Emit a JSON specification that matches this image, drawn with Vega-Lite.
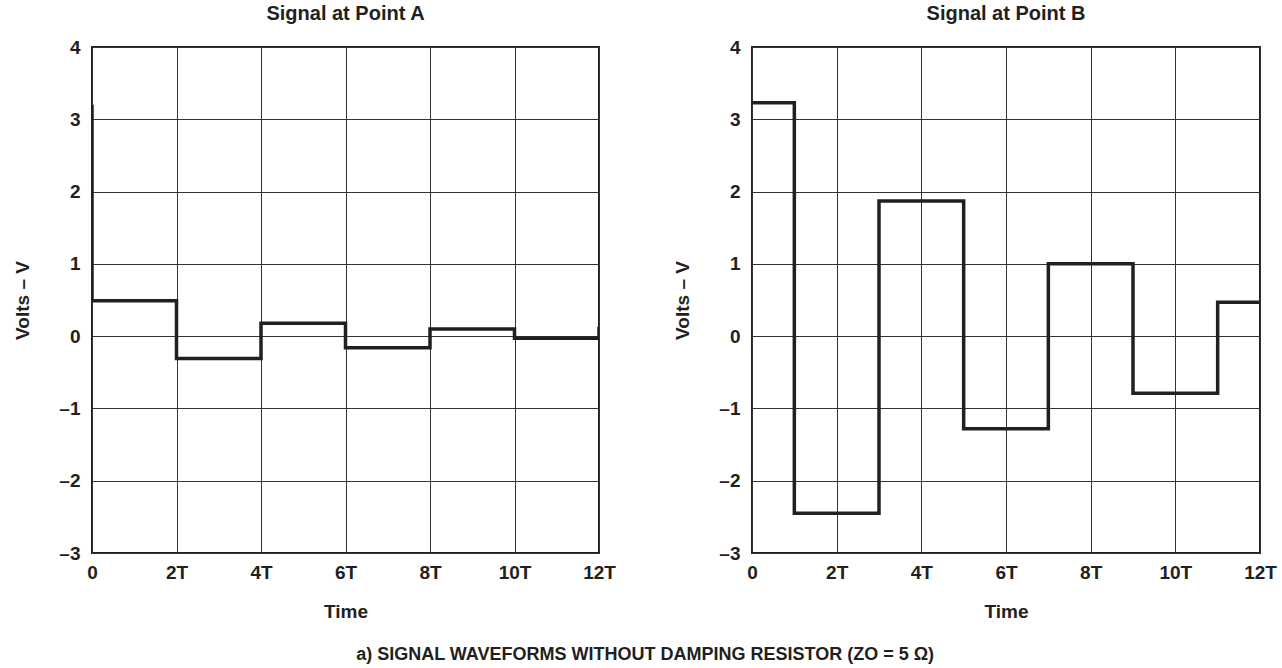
{
  "$schema": "https://vega.github.io/schema/vega-lite/v6.json",
  "padding": {"left": 12, "top": 3, "right": 0, "bottom": 3},
  "background": "white",
  "title": {
    "text": "a) SIGNAL WAVEFORMS WITHOUT DAMPING RESISTOR (ZO = 5 Ω)",
    "orient": "bottom",
    "anchor": "middle",
    "fontSize": 18,
    "fontWeight": "bold",
    "font": "Liberation Sans",
    "color": "#231f20",
    "offset": 24
  },
  "config": {
    "font": "Liberation Sans",
    "view": {"stroke": "#231f20", "strokeWidth": 2},
    "concat": {"spacing": 55},
    "title": {"fontSize": 20, "fontWeight": "bold", "color": "#231f20", "offset": 14},
    "axis": {
      "grid": true,
      "gridColor": "#333333",
      "gridWidth": 1,
      "gridOpacity": 1,
      "ticks": false,
      "domain": false,
      "labelFontSize": 19,
      "labelFontWeight": "bold",
      "labelColor": "#231f20",
      "titleFontSize": 19,
      "titleFontWeight": "bold",
      "titleColor": "#231f20"
    }
  },
  "hconcat": [
    {
      "title": "Signal at Point A",
      "width": 507,
      "height": 506,
      "data": {"values": [
        {"i": 0, "t": 0, "v": 3.2},
        {"i": 1, "t": 0, "v": 0.49},
        {"i": 2, "t": 2, "v": -0.31},
        {"i": 3, "t": 4, "v": 0.18},
        {"i": 4, "t": 6, "v": -0.16},
        {"i": 5, "t": 8, "v": 0.10},
        {"i": 6, "t": 10, "v": -0.03},
        {"i": 7, "t": 12, "v": 0.13}
      ]},
      "mark": {"type": "line", "interpolate": "step-after", "color": "#231f20", "strokeWidth": 3.5, "clip": true},
      "encoding": {
        "x": {"field": "t", "type": "quantitative", "title": "Time",
              "scale": {"domain": [0, 12], "nice": false},
              "axis": {"values": [0, 2, 4, 6, 8, 10, 12], "labelExpr": "datum.value == 0 ? '0' : datum.value + 'T'", "labelPadding": 10, "titlePadding": 20, "labelFlush": false}},
        "y": {"field": "v", "type": "quantitative", "title": "Volts – V",
              "scale": {"domain": [-3, 4], "nice": false, "zero": false},
              "axis": {"values": [-3, -2, -1, 0, 1, 2, 3, 4], "labelExpr": "replace(format(datum.value, 'd'), '−', '–')", "labelPadding": 12, "titlePadding": 26, "labelFlush": false}},
        "order": {"field": "i", "type": "quantitative"}
      }
    },
    {
      "title": "Signal at Point B",
      "width": 508,
      "height": 506,
      "data": {"values": [
        {"i": 0, "t": 0, "v": 3.23},
        {"i": 1, "t": 1, "v": -2.45},
        {"i": 2, "t": 3, "v": 1.87},
        {"i": 3, "t": 5, "v": -1.28},
        {"i": 4, "t": 7, "v": 1.0},
        {"i": 5, "t": 9, "v": -0.79},
        {"i": 6, "t": 11, "v": 0.47},
        {"i": 7, "t": 12, "v": 0.47}
      ]},
      "mark": {"type": "line", "interpolate": "step-after", "color": "#231f20", "strokeWidth": 3.5, "clip": true},
      "encoding": {
        "x": {"field": "t", "type": "quantitative", "title": "Time",
              "scale": {"domain": [0, 12], "nice": false},
              "axis": {"values": [0, 2, 4, 6, 8, 10, 12], "labelExpr": "datum.value == 0 ? '0' : datum.value + 'T'", "labelPadding": 10, "titlePadding": 20, "labelFlush": false}},
        "y": {"field": "v", "type": "quantitative", "title": "Volts – V",
              "scale": {"domain": [-3, 4], "nice": false, "zero": false},
              "axis": {"values": [-3, -2, -1, 0, 1, 2, 3, 4], "labelExpr": "replace(format(datum.value, 'd'), '−', '–')", "labelPadding": 12, "titlePadding": 26, "labelFlush": false}},
        "order": {"field": "i", "type": "quantitative"}
      }
    }
  ]
}
